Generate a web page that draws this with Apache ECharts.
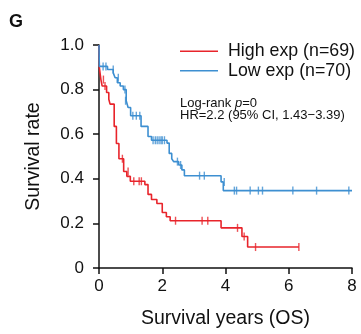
<!DOCTYPE html>
<html>
<head>
<meta charset="utf-8">
<script src="https://cdn.jsdelivr.net/npm/echarts@6/dist/echarts.min.js"></script>
<style>
  html, body { margin: 0; padding: 0; background: #fff; }
  #main { width: 361px; height: 334px; }
</style>
</head>
<body>
<div id="main"></div>
<script>
// Kaplan-Meier steps: [years, survival after the event]
const highSteps = [
  [0, 1.0], [0.01, 0.90], [0.06, 0.845], [0.10, 0.816], [0.24, 0.787],
  [0.31, 0.757], [0.35, 0.735], [0.48, 0.635], [0.55, 0.558], [0.63, 0.49],
  [0.78, 0.433], [0.88, 0.411], [0.99, 0.389], [1.45, 0.374], [1.55, 0.33],
  [1.66, 0.307], [1.83, 0.289], [2.0, 0.249], [2.13, 0.23], [2.25, 0.212],
  [3.86, 0.18], [4.52, 0.141], [4.70, 0.094], [6.32, 0.094]
]
const lowSteps = [
  [0, 1.0], [0.01, 0.904], [0.27, 0.89], [0.45, 0.875], [0.51, 0.853],
  [0.58, 0.831], [0.67, 0.816], [0.77, 0.80], [0.86, 0.75], [0.92, 0.72],
  [1.0, 0.683], [1.33, 0.635], [1.55, 0.59], [1.66, 0.573], [2.15, 0.56],
  [2.22, 0.514], [2.30, 0.49], [2.36, 0.477], [2.52, 0.462], [2.62, 0.44],
  [2.70, 0.414], [3.86, 0.386], [3.93, 0.347], [8.0, 0.347]
]
// censored observations (+ marks)
const highCensor = [
  [0.14, 0.845], [0.19, 0.816], [0.74, 0.49], [0.92, 0.433], [1.10, 0.389],
  [1.27, 0.389], [1.34, 0.389], [2.42, 0.212], [3.26, 0.212], [3.44, 0.212],
  [4.38, 0.18], [4.59, 0.141], [4.95, 0.094], [6.32, 0.094]
]
const lowCensor = [
  [0.13, 0.904], [0.22, 0.904], [0.45, 0.89], [0.61, 0.853], [0.82, 0.80],
  [0.84, 0.75], [1.07, 0.683], [1.18, 0.683], [1.29, 0.683], [1.71, 0.573],
  [1.78, 0.573], [1.84, 0.573], [1.90, 0.573], [1.96, 0.573], [2.0, 0.573],
  [2.07, 0.573], [2.48, 0.477], [2.58, 0.462], [3.18, 0.414], [3.33, 0.414],
  [3.96, 0.386], [4.28, 0.347], [4.35, 0.347], [4.78, 0.347], [5.04, 0.347],
  [5.17, 0.347], [6.13, 0.347], [6.88, 0.347], [7.90, 0.347]
]
const legendNames = ['High exp (n=69)', 'Low exp (n=70)']
const statLines = ['Log-rank {i|p}=0', 'HR=2.2 (95% CI, 1.43\u22123.39)']

const RED = '#e8242b'
const BLUE = '#3d8fd1'
const FONT = 'Liberation Sans, Arial, sans-serif'

let myChart = echarts.init(document.getElementById('main'), null, { renderer: 'canvas' })

myChart.setOption({
  animation: false,
  textStyle: { fontFamily: FONT },
  grid: { left: 99, right: 9, top: 45, bottom: 63 },
  xAxis: {
    type: 'value', min: 0, max: 8, interval: 2,
    name: 'Survival years (OS)', nameLocation: 'middle', nameGap: 41,
    nameTextStyle: { fontSize: 19.5, color: '#111', fontFamily: FONT },
    axisLine: { lineStyle: { color: '#111', width: 1.5 } },
    axisTick: { length: 6, lineStyle: { color: '#111', width: 1.5 } },
    axisLabel: { fontSize: 17, color: '#111', margin: 10, fontFamily: FONT },
    splitLine: { show: false }
  },
  yAxis: {
    type: 'value', min: 0, max: 1, interval: 0.2,
    name: 'Survival rate', nameLocation: 'middle', nameGap: 55,
    nameTextStyle: { fontSize: 19.5, color: '#111', fontFamily: FONT },
    axisLine: { show: true, lineStyle: { color: '#111', width: 1.5 } },
    axisTick: { show: true, length: 6, lineStyle: { color: '#111', width: 1.5 } },
    axisLabel: {
      fontSize: 17, color: '#111', margin: 15, fontFamily: FONT,
      formatter: v => (v === 0 ? '0' : v.toFixed(1))
    },
    splitLine: { show: false }
  },
  series: [
    {
      type: 'line', step: 'end', data: highSteps, showSymbol: false,
      lineStyle: { color: RED, width: 1.6 }
    },
    {
      type: 'line', step: 'end', data: lowSteps, showSymbol: false,
      lineStyle: { color: BLUE, width: 1.6 }
    },
    {
      type: 'scatter', data: highCensor, symbol: 'rect', symbolSize: [1.4, 8],
      itemStyle: { color: RED }, z: 3
    },
    {
      type: 'scatter', data: lowCensor, symbol: 'rect', symbolSize: [1.4, 8],
      itemStyle: { color: BLUE }, z: 3
    }
  ],
  graphic: [
    { type: 'text', left: 9, top: 13, style: { text: 'G', font: 'bold 18px ' + FONT, fill: '#111' } },
    { type: 'line', shape: { x1: 180, y1: 51.3, x2: 218, y2: 51.3 }, style: { stroke: RED, lineWidth: 1.6 } },
    { type: 'line', shape: { x1: 180, y1: 70.7, x2: 218, y2: 70.7 }, style: { stroke: BLUE, lineWidth: 1.6 } },
    { type: 'text', x: 228, y: 51.5, style: { text: legendNames[0], font: '17.8px ' + FONT, fill: '#111', verticalAlign: 'middle' } },
    { type: 'text', x: 228, y: 71, style: { text: legendNames[1], font: '17.8px ' + FONT, fill: '#111', verticalAlign: 'middle' } },
    {
      type: 'text', x: 180, y: 97,
      style: {
        text: statLines[0], font: '13px ' + FONT, fill: '#111',
        rich: { i: { fontStyle: 'italic', fontSize: 13, fontFamily: FONT } }
      }
    },
    { type: 'text', x: 180, y: 108.5, style: { text: statLines[1], font: '13px ' + FONT, fill: '#111' } }
  ]
})
</script>
</body>
</html>
